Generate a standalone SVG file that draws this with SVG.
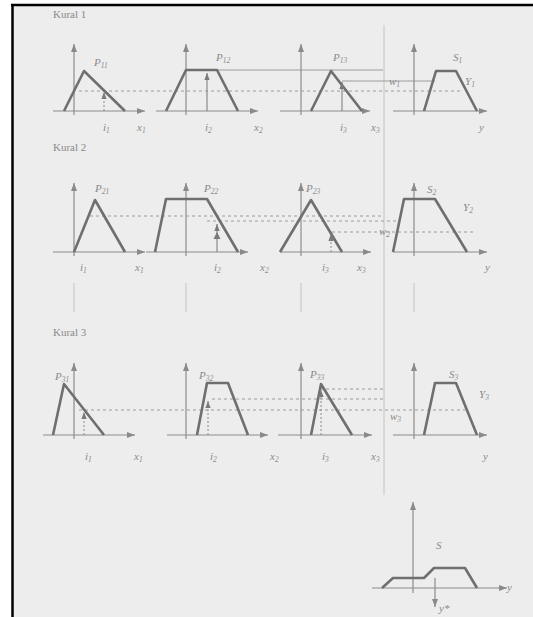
<svg xmlns="http://www.w3.org/2000/svg" width="533" height="617" viewBox="0 0 533 617">
<defs>
<marker id="ah" viewBox="0 0 8 6" refX="8" refY="3" markerWidth="8" markerHeight="6" orient="auto" markerUnits="userSpaceOnUse"><path d="M0,0 L8,3 L0,6 z" fill="#8a8a8a"/></marker>
<marker id="ahs" viewBox="0 0 8 6" refX="8" refY="3" markerWidth="7" markerHeight="6" orient="auto" markerUnits="userSpaceOnUse"><path d="M0,0 L8,3 L0,6 z" fill="#7a7a7a"/></marker>
</defs>
<style>
.ax{stroke:#8c8c8c;stroke-width:1.2;fill:none}
.axa{stroke:#8c8c8c;stroke-width:1.2;fill:none;marker-end:url(#ah)}
.cv{stroke:#6f6f6f;stroke-width:2.6;fill:none;stroke-linejoin:round}
.dsh{stroke:#9c9c9c;stroke-width:1;stroke-dasharray:3 3;fill:none}
.sol{stroke:#9c9c9c;stroke-width:1;fill:none}
.dot{stroke:#8a8a8a;stroke-width:1;stroke-dasharray:2 2;fill:none;marker-end:url(#ahs)}
.inp{stroke:#8a8a8a;stroke-width:1.2;fill:none;marker-end:url(#ahs)}
.sep{stroke:#c4c4c4;stroke-width:1;fill:none}
.lb{font-family:"Liberation Serif",serif;font-style:italic;font-size:11px;fill:#8a8a8a}
.sb{font-size:7.5px}
.tt{font-family:"Liberation Serif",serif;font-size:11px;fill:#8a8a8a}
</style>
<rect x="0" y="0" width="533" height="617" fill="#ffffff"/>
<rect x="12" y="5" width="521" height="612" fill="#ededed"/>
<line x1="12.5" y1="4" x2="12.5" y2="617" stroke="#000" stroke-width="2.5"/>
<line x1="11" y1="5" x2="533" y2="5" stroke="#000" stroke-width="2.5"/>

<g id="titles">
<text class="tt" x="53" y="18">Kural 1</text>
<text class="tt" x="53" y="151">Kural 2</text>
<text class="tt" x="53" y="336">Kural 3</text>
</g>

<g id="connectors">
<line class="sep" x1="384" y1="25" x2="384" y2="495"/>
<line class="dsh" x1="79" y1="91" x2="463" y2="91"/>
<line class="sol" x1="217" y1="70" x2="383" y2="70"/>
<line class="sol" x1="342" y1="81" x2="435" y2="81"/>
<line class="dsh" x1="90" y1="216" x2="382" y2="216"/>
<line class="dsh" x1="207" y1="221" x2="397" y2="221"/>
<line class="dsh" x1="332" y1="232" x2="473" y2="232"/>
<line class="dsh" x1="79" y1="410" x2="465" y2="410"/>
<line class="dsh" x1="212" y1="399" x2="383" y2="399"/>
<line class="dsh" x1="320" y1="389" x2="383" y2="389"/>
<line class="sep" x1="74" y1="283" x2="74" y2="312"/>
<line class="sep" x1="186" y1="283" x2="186" y2="312"/>
<line class="sep" x1="301" y1="283" x2="301" y2="312"/>
<line class="sep" x1="414" y1="283" x2="414" y2="312"/>
</g>

<g id="p11">
<line class="axa" x1="74" y1="115" x2="74" y2="44"/>
<line class="axa" x1="53" y1="111" x2="145" y2="111"/>
<polyline class="cv" points="64,111 84,71 125,111"/>
<text class="lb" x="94" y="66">P<tspan class="sb" dy="2">11</tspan></text>
<line class="dot" x1="104" y1="111" x2="104" y2="92"/>
<text class="lb" x="103" y="131">i<tspan class="sb" dy="2">1</tspan></text>
<text class="lb" x="137" y="131">x<tspan class="sb" dy="2">1</tspan></text>
</g>
<g id="p12">
<line class="axa" x1="186" y1="115" x2="186" y2="44"/>
<line class="axa" x1="156" y1="111" x2="258" y2="111"/>
<polyline class="cv" points="166,111 186,70 217,70 238,111"/>
<text class="lb" x="216" y="61">P<tspan class="sb" dy="2">12</tspan></text>
<line class="inp" x1="207" y1="111" x2="207" y2="73"/>
<text class="lb" x="205" y="131">i<tspan class="sb" dy="2">2</tspan></text>
<text class="lb" x="254" y="131">x<tspan class="sb" dy="2">2</tspan></text>
</g>
<g id="p13">
<line class="axa" x1="301" y1="115" x2="301" y2="44"/>
<line class="axa" x1="280" y1="111" x2="370" y2="111"/>
<polyline class="cv" points="311,111 331,71 362,111"/>
<text class="lb" x="333" y="61">P<tspan class="sb" dy="2">13</tspan></text>
<line class="inp" x1="342" y1="111" x2="342" y2="82"/>
<text class="lb" x="340" y="131">i<tspan class="sb" dy="2">3</tspan></text>
<text class="lb" x="371" y="131">x<tspan class="sb" dy="2">3</tspan></text>
</g>
<g id="s1">
<line class="axa" x1="414" y1="115" x2="414" y2="44"/>
<line class="axa" x1="393" y1="111" x2="487" y2="111"/>
<polyline class="cv" points="424,111 436,71 456,71 477,111"/>
<text class="lb" x="453" y="61">S<tspan class="sb" dy="2">1</tspan></text>
<text class="lb" x="465" y="85">Y<tspan class="sb" dy="2">1</tspan></text>
<text class="lb" x="389" y="85">w<tspan class="sb" dy="2">1</tspan></text>
<text class="lb" x="479" y="131">y</text>
</g>

<g id="p21">
<line class="axa" x1="74" y1="256" x2="74" y2="183"/>
<line class="axa" x1="53" y1="252" x2="145" y2="252"/>
<polyline class="cv" points="74,252 95,200 125,252"/>
<text class="lb" x="95" y="192">P<tspan class="sb" dy="2">21</tspan></text>
<text class="lb" x="80" y="271">i<tspan class="sb" dy="2">1</tspan></text>
<text class="lb" x="135" y="271">x<tspan class="sb" dy="2">1</tspan></text>
</g>
<g id="p22">
<line class="axa" x1="186" y1="256" x2="186" y2="183"/>
<line class="axa" x1="146" y1="252" x2="248" y2="252"/>
<polyline class="cv" points="155,252 166,199 207,199 238,252"/>
<text class="lb" x="204" y="192">P<tspan class="sb" dy="2">22</tspan></text>
<line class="inp" x1="217" y1="252" x2="217" y2="224"/>
<path d="M213.5,239 L217,232 L220.5,239 z" fill="#7a7a7a"/>
<text class="lb" x="214" y="271">i<tspan class="sb" dy="2">2</tspan></text>
<text class="lb" x="260" y="271">x<tspan class="sb" dy="2">2</tspan></text>
</g>
<g id="p23">
<line class="axa" x1="301" y1="256" x2="301" y2="183"/>
<line class="axa" x1="280" y1="252" x2="371" y2="252"/>
<polyline class="cv" points="280,252 311,200 342,252"/>
<text class="lb" x="306" y="192">P<tspan class="sb" dy="2">23</tspan></text>
<line class="dot" x1="331" y1="252" x2="331" y2="234"/>
<text class="lb" x="322" y="271">i<tspan class="sb" dy="2">3</tspan></text>
<text class="lb" x="357" y="271">x<tspan class="sb" dy="2">3</tspan></text>
</g>
<g id="s2">
<line class="axa" x1="414" y1="256" x2="414" y2="183"/>
<line class="axa" x1="393" y1="252" x2="487" y2="252"/>
<polyline class="cv" points="393,252 404,199 435,199 467,252"/>
<text class="lb" x="427" y="193">S<tspan class="sb" dy="2">2</tspan></text>
<text class="lb" x="463" y="211">Y<tspan class="sb" dy="2">2</tspan></text>
<text class="lb" x="379" y="235">w<tspan class="sb" dy="2">2</tspan></text>
<text class="lb" x="485" y="271">y</text>
</g>

<g id="p31">
<line class="axa" x1="74" y1="439" x2="74" y2="363"/>
<line class="axa" x1="43" y1="435" x2="135" y2="435"/>
<polyline class="cv" points="53,435 64,384 104,435"/>
<text class="lb" x="55" y="380">P<tspan class="sb" dy="2">31</tspan></text>
<line class="dot" x1="84" y1="435" x2="84" y2="412"/>
<text class="lb" x="85" y="460">i<tspan class="sb" dy="2">1</tspan></text>
<text class="lb" x="134" y="460">x<tspan class="sb" dy="2">1</tspan></text>
</g>
<g id="p32">
<line class="axa" x1="186" y1="439" x2="186" y2="363"/>
<line class="axa" x1="167" y1="435" x2="268" y2="435"/>
<polyline class="cv" points="197,435 207,383 228,383 248,435"/>
<text class="lb" x="199" y="379">P<tspan class="sb" dy="2">32</tspan></text>
<line class="dot" x1="208" y1="435" x2="208" y2="401"/>
<text class="lb" x="210" y="460">i<tspan class="sb" dy="2">2</tspan></text>
<text class="lb" x="270" y="460">x<tspan class="sb" dy="2">2</tspan></text>
</g>
<g id="p33">
<line class="axa" x1="301" y1="439" x2="301" y2="363"/>
<line class="axa" x1="278" y1="435" x2="372" y2="435"/>
<polyline class="cv" points="311,435 321,384 352,435"/>
<text class="lb" x="310" y="378">P<tspan class="sb" dy="2">33</tspan></text>
<line class="dot" x1="321" y1="435" x2="321" y2="390"/>
<text class="lb" x="322" y="460">i<tspan class="sb" dy="2">3</tspan></text>
<text class="lb" x="371" y="460">x<tspan class="sb" dy="2">3</tspan></text>
</g>
<g id="s3">
<line class="axa" x1="414" y1="439" x2="414" y2="363"/>
<line class="axa" x1="393" y1="435" x2="487" y2="435"/>
<polyline class="cv" points="424,435 435,383 456,383 477,435"/>
<text class="lb" x="449" y="378">S<tspan class="sb" dy="2">3</tspan></text>
<text class="lb" x="479" y="398">Y<tspan class="sb" dy="2">3</tspan></text>
<text class="lb" x="390" y="420">w<tspan class="sb" dy="2">3</tspan></text>
<text class="lb" x="483" y="460">y</text>
</g>

<g id="s">
<line class="axa" x1="413" y1="593" x2="413" y2="502"/>
<line class="axa" x1="372" y1="588" x2="507" y2="588"/>
<polyline class="cv" points="382,588 393,578 424,578 434,568 465,568 477,588"/>
<text class="lb" x="436" y="549">S</text>
<text class="lb" x="507" y="591">y</text>
<line class="axa" x1="435" y1="578" x2="435" y2="607"/>
<text class="lb" x="439" y="612">y*</text>
</g>
</svg>
